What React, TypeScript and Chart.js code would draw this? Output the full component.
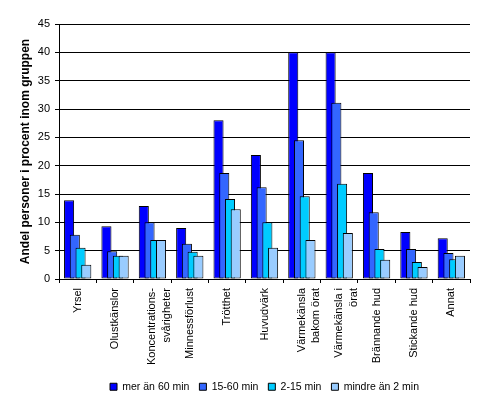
import React, { useEffect, useRef } from "react";
import { Chart, registerables } from "chart.js";

Chart.register(...registerables);

const categories: string[][] = [
  ["Yrsel"],
  ["Olustkänslor"],
  ["Koncentrations-", "svårigheter"],
  ["Minnessförlust"],
  ["Trötthet"],
  ["Huvudvärk"],
  ["Värmekänsla", "bakom örat"],
  ["Värmekänsla i", "örat"],
  ["Brännande hud"],
  ["Stickande hud"],
  ["Annat"],
];

const seriesNames = ["mer än 60 min", "15-60 min", "2-15 min", "mindre än 2 min"];
const seriesColors = ["#0000FF", "#3366FF", "#00CCFF", "#99CCFF"];

const over60 = [13.9, 9.3, 12.9, 9.0, 28.0, 21.9, 40.0, 40.0, 18.7, 8.3, 7.2];
const min15to60 = [7.8, 4.9, 10.0, 6.2, 18.7, 16.2, 24.5, 31.1, 11.8, 5.3, 4.6];
const min2to15 = [5.5, 4.1, 6.9, 4.8, 14.1, 10.0, 14.6, 16.8, 5.3, 3.0, 3.5];
const under2 = [2.5, 4.1, 6.9, 4.1, 12.3, 5.5, 6.9, 8.1, 3.4, 2.1, 4.1];

const seriesValues = [over60, min15to60, min2to15, under2];

const yMin = 0;
const yMax = 45;
const yStep = 5;

const yTitle = "Andel personer i procent inom gruppen";

const FONT = "'Liberation Sans', Arial, sans-serif";

// Excel-like overlapping bars: overlap and gap width as fractions of bar width
const overlapPlugin = {
  id: "excelOverlap",
  afterDatasetsUpdate(chart: any) {
    const xs = chart.scales.x;
    const n = chart.data.datasets.length;
    const count = chart.data.labels.length;
    const cw = xs.width / count;
    const overlap = 0.43;
    const gap = 1.0;
    const bw = cw / (n - (n - 1) * overlap + gap);
    const step = bw * (1 - overlap);
    for (let di = 0; di < n; di++) {
      const meta = chart.getDatasetMeta(di);
      meta.data.forEach((el: any, i: number) => {
        el.x = xs.getPixelForValue(i) + (di - (n - 1) / 2) * step;
        el.width = bw;
      });
    }
  },
};

export default function App() {
  const ref = useRef<HTMLCanvasElement | null>(null);

  useEffect(() => {
    if (!ref.current) return;
    const n = seriesValues.length;
    const chart = new Chart(ref.current, {
      type: "bar",
      data: {
        labels: categories as any,
        datasets: seriesValues.map((vals, i) => ({
          label: seriesNames[i],
          data: vals,
          backgroundColor: seriesColors[i],
          borderColor: "#000000",
          borderWidth: 1,
          borderSkipped: false,
          grouped: false,
          order: n - 1 - i,
        })),
      },
      options: {
        responsive: false,
        animation: false,
        devicePixelRatio: 1,
        layout: { padding: { left: 0, right: 14, top: 24, bottom: 1 } },
        plugins: {
          tooltip: { enabled: false },
          legend: {
            position: "bottom",
            fullSize: false,
            labels: {
              boxWidth: 7,
              boxHeight: 7,
              color: "#000",
              padding: 10,
              font: { size: 10.5, family: FONT },
              sort: (a: any, b: any) => a.datasetIndex - b.datasetIndex,
            },
          },
        },
        scales: {
          x: {
            offset: true,
            grid: {
              display: true,
              drawOnChartArea: false,
              drawTicks: true,
              tickLength: 4,
              color: "#000",
              offset: true,
            },
            border: { color: "#000", width: 1 },
            ticks: {
              autoSkip: false,
              maxRotation: 90,
              minRotation: 90,
              color: "#000",
              padding: 5,
              font: { size: 11, lineHeight: 1.3, family: FONT },
            },
            afterFit: (s: any) => {
              s.height = 92.5;
            },
          },
          y: {
            min: yMin,
            max: yMax,
            ticks: {
              stepSize: yStep,
              color: "#000",
              padding: 5,
              font: { size: 11, family: FONT },
            },
            grid: { color: "#000", tickLength: 4, drawTicks: true, lineWidth: 1 },
            border: { color: "#000", width: 1 },
            title: {
              display: true,
              text: yTitle,
              color: "#000",
              font: { size: 12, weight: "bold", family: FONT },
              padding: { top: 18, bottom: 0 },
            },
            afterFit: (s: any) => {
              s.width = 59;
            },
          },
        },
      },
      plugins: [overlapPlugin],
    });
    return () => chart.destroy();
  }, []);

  return (
    <div style={{ position: "fixed", left: 0, top: 0, width: 484, height: 403, background: "#fff" }}>
      <canvas ref={ref} width={484} height={403} style={{ width: 484, height: 403 }} />
    </div>
  );
}
